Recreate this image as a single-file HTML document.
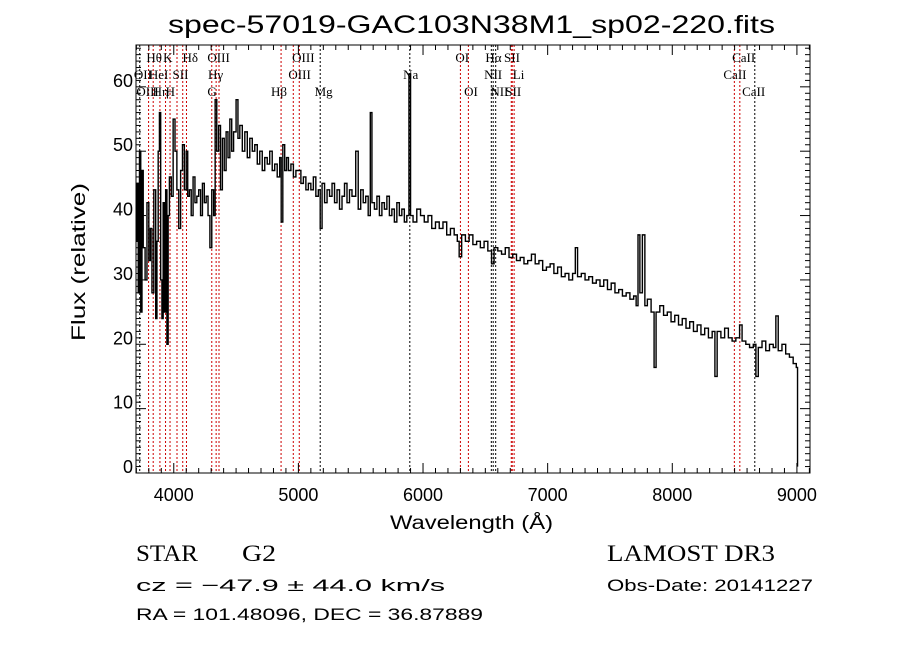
<!DOCTYPE html>
<html><head><meta charset="utf-8"><style>
html,body{margin:0;padding:0;background:#fff;}
svg{display:block;font-family:"Liberation Sans","DejaVu Sans",sans-serif;}
</style></head><body>
<svg id="chart" width="900" height="649" viewBox="0 0 900 649" xmlns="http://www.w3.org/2000/svg">
<rect width="900" height="649" fill="#fff"/>
<text x="168" y="33" font-size="25" textLength="607" lengthAdjust="spacingAndGlyphs">spec-57019-GAC103N38M1_sp02-220.fits</text>
<g id="lines"></g>
<g id="labels" font-family="Liberation Serif, serif" font-size="13"></g>
<g id="spec"></g>
<g id="axes"></g>
<text x="390" y="529" font-size="19" textLength="163" lengthAdjust="spacingAndGlyphs">Wavelength (Å)</text>
<text transform="translate(85,341) rotate(-90)" font-size="19" textLength="158" lengthAdjust="spacingAndGlyphs">Flux (relative)</text>
<text x="136" y="561" font-family="Liberation Serif, serif" font-size="23" textLength="62" lengthAdjust="spacingAndGlyphs">STAR</text>
<text x="242" y="561" font-family="Liberation Serif, serif" font-size="23" textLength="34" lengthAdjust="spacingAndGlyphs">G2</text>
<text x="607" y="561" font-family="Liberation Serif, serif" font-size="23" textLength="168" lengthAdjust="spacingAndGlyphs">LAMOST DR3</text>
<text x="136" y="591" font-size="17" textLength="309" lengthAdjust="spacingAndGlyphs">cz = −47.9 ± 44.0 km/s</text>
<text x="607" y="591" font-size="17" textLength="206" lengthAdjust="spacingAndGlyphs">Obs-Date: 20141227</text>
<text x="136" y="620" font-size="17" textLength="347" lengthAdjust="spacingAndGlyphs">RA = 101.48096, DEC =  36.87889</text>
</svg>
<script>
const wavelengths=[
3700,3705,3715,3725,3735,3745,3755,3770,3785,3800,
3812,3825,3840,3855,3865,3875,3885,3895,3905,3915,
3925,3935,3945,3955,3965,3980,3995,4010,4025,4040,
4055,4070,4085,4100,4112,4125,4140,4155,4170,4185,
4200,4215,4230,4245,4260,4275,4290,4305,4320,4332,
4345,4360,4375,4390,4405,4420,4435,4450,4465,4480,
4500,4515,4530,4550,4570,4590,4610,4630,4650,4670,
4690,4710,4730,4750,4770,4790,4810,4830,4850,4862,
4875,4890,4905,4920,4940,4960,4980,5000,5020,5040,
5060,5080,5100,5120,5140,5160,5175,5190,5210,5230,
5250,5270,5290,5310,5330,5350,5370,5390,5410,5430,
5460,5480,5500,5520,5540,5560,5577,5590,5610,5630,
5650,5670,5690,5710,5730,5750,5770,5790,5810,5830,
5850,5870,5887,5900,5920,5950,5980,6010,6040,6070,
6100,6130,6160,6190,6220,6250,6275,6290,6310,6340,
6370,6400,6430,6460,6490,6520,6550,6570,6600,6630,
6660,6690,6720,6750,6780,6810,6840,6870,6900,6930,
6960,6990,7020,7050,7080,7110,7140,7170,7200,7222,
7240,7270,7300,7330,7360,7390,7420,7450,7480,7510,
7540,7570,7600,7630,7660,7690,7710,7725,7740,7760,
7780,7800,7830,7854,7870,7900,7930,7960,7990,8020,
8050,8080,8110,8140,8170,8200,8230,8260,8290,8320,
8342,8360,8390,8420,8450,8480,8510,8540,8560,8590,
8620,8650,8671,8690,8720,8750,8780,8810,8831,8850,
8880,8910,8940,8970,8995,9005];
const fluxes=[
36,45,28,50,25,47,35,30,42,33,
38,28,44,24,36,50,56,30,24,42,
25,44,20,40,46,43,55,50,44,38,
47,51,44,50,43,44,40,46,42,43,
44,40,45,42,43,40,35,44,40,58,
50,54,44,52,47,53,49,55,50,53,
58,52,54,50,53,49,52,50,51,48,
50,47,49,48,50,47,48,46,49,39,
51,47,49,47,48,46,47,47,45,46,
44,45,44,46,43,44,38,45,42,44,
43,45,42,44,41,43,45,42,44,43,
50,41,44,42,43,40,56,42,41,43,
40,42,41,43,40,41,39,42,40,41,
39,40,62,40,39,41,40,39,40,38,
39,38,39,37,38,37,36,33.6,37,36,
37,35.5,36,35,36,34.5,32.5,35,34.5,34,
35,33.5,34,33,33.5,32.5,33,34,32.5,33,
31.5,32,32.5,31,32,30.5,31,30,31,35,
30.5,31,30,30.5,29.5,30,29,30,28.5,29.5,
28,28.5,27.5,28,27,27.5,26,37,28,37,
26,27,25,16.4,25,26,24.5,25,23.5,24.5,
23,24,22.5,23.5,22,23,21.5,22.5,21,22,
15,22,21,22.5,21,20.5,21,23,20.5,20,
19.5,20,15,19.5,20.5,19,20,19.5,24.4,19,
20,18.5,18,17,16.4,1];
const lineWaves=[3727,3798,3835,3889,3934,3970,4026,4072,4102,4305,4340,4363,4861,4959,5007,5175,5894,6300,6364,6548,6563,6583,6708,6716,6731,8498,8542,8662];
const lineColors=["#000","#c00","#c00","#c00","#c00","#c00","#c00","#c00","#c00","#c00","#c00","#c00","#c00","#c00","#c00","#000","#000","#c00","#c00","#000","#000","#000","#c00","#c00","#c00","#c00","#c00","#000"];
const labelNames=["OII","OIII","Hθ","HeI","Hη","K","H","SII","Hδ","OIII","Hγ","G","Hβ","OIII","OIII","Mg","Na","OI","OI","Hα","NII","NII","Li","SII","SII","CaII","CaII","CaII"];
const labelWaves=[3680,3700,3780,3800,3830,3915,3935,3990,4070,4270,4275,4270,4780,4920,4950,5130,5840,6260,6330,6500,6490,6540,6720,6650,6660,8480,8410,8560];
const labelRows=[2,3,1,2,3,1,3,2,1,1,2,3,3,2,1,3,2,1,3,1,2,3,2,1,3,1,2,3];
const xTicks=[4000,5000,6000,7000,8000,9000];
const yTicks=[0,10,20,30,40,50,60];
const L=136,R=810,T=45,B=473,XMIN=3697,XMAX=9105,YMIN=0,YMAX=66.5;
const xs=v=>L+(v-XMIN)/(XMAX-XMIN)*(R-L);
const ys=v=>B-(v-YMIN)/(YMAX-YMIN)*(B-T);
const NS="http://www.w3.org/2000/svg";
function mk(tag,parent){const e=document.createElementNS(NS,tag);parent.appendChild(e);return e;}
const gl=document.getElementById('lines'),glab=document.getElementById('labels'),gs=document.getElementById('spec'),ga=document.getElementById('axes');
lineWaves.forEach((w,i)=>{const l=mk('line',gl);


l.setAttribute('x1',xs(w));l.setAttribute('x2',xs(w));l.setAttribute('y1',T);l.setAttribute('y2',B);
l.setAttribute('stroke',lineColors[i]);l.setAttribute('stroke-width','1');l.setAttribute('stroke-dasharray','2,2');});
labelNames.forEach((n,i)=>{const t=mk('text',glab);


t.setAttribute('x',xs(labelWaves[i]));t.setAttribute('y',62+(labelRows[i]-1)*17);t.textContent=n;});
let d='';const n=Math.min(wavelengths.length,fluxes.length);
for(let i=0;i<n;i++){const x=xs(wavelengths[i]),y=ys(fluxes[i]);
if(i===0)d+='M'+x+' '+y;else d+=' H'+x+' V'+y;}
const p=mk('path',gs);


p.setAttribute('d',d);p.setAttribute('fill','none');p.setAttribute('stroke','#000');p.setAttribute('stroke-width','1.4');
const fr=mk('rect',ga);


fr.setAttribute('x',L);fr.setAttribute('y',T);fr.setAttribute('width',R-L);fr.setAttribute('height',B-T);fr.setAttribute('fill','none');fr.setAttribute('stroke','#000');
function tick(x1,y1,x2,y2){const l=mk('line',ga);


l.setAttribute('x1',x1);l.setAttribute('y1',y1);l.setAttribute('x2',x2);l.setAttribute('y2',y2);l.setAttribute('stroke','#000');}
for(let w=3700;w<=9100;w+=100){const x=xs(w),len=(w%1000===0)?10:5;tick(x,B,x,B-len);tick(x,T,x,T+len);}
for(let v=0;v<=66;v+=1){const y=ys(v),len=(v%10===0)?10:5;tick(L,y,L+len,y);tick(R,y,R-len,y);}
xTicks.forEach(v=>{const t=mk('text',ga);


t.setAttribute('x',xs(v));t.setAttribute('y',B+28);t.setAttribute('text-anchor','middle');t.setAttribute('font-size','18');t.textContent=v;});
yTicks.forEach(v=>{const t=mk('text',ga);


t.setAttribute('x',L-3);t.setAttribute('y',ys(v)+0);t.setAttribute('text-anchor','end');t.setAttribute('font-size','18');t.textContent=v;});
</script>
</body></html>
